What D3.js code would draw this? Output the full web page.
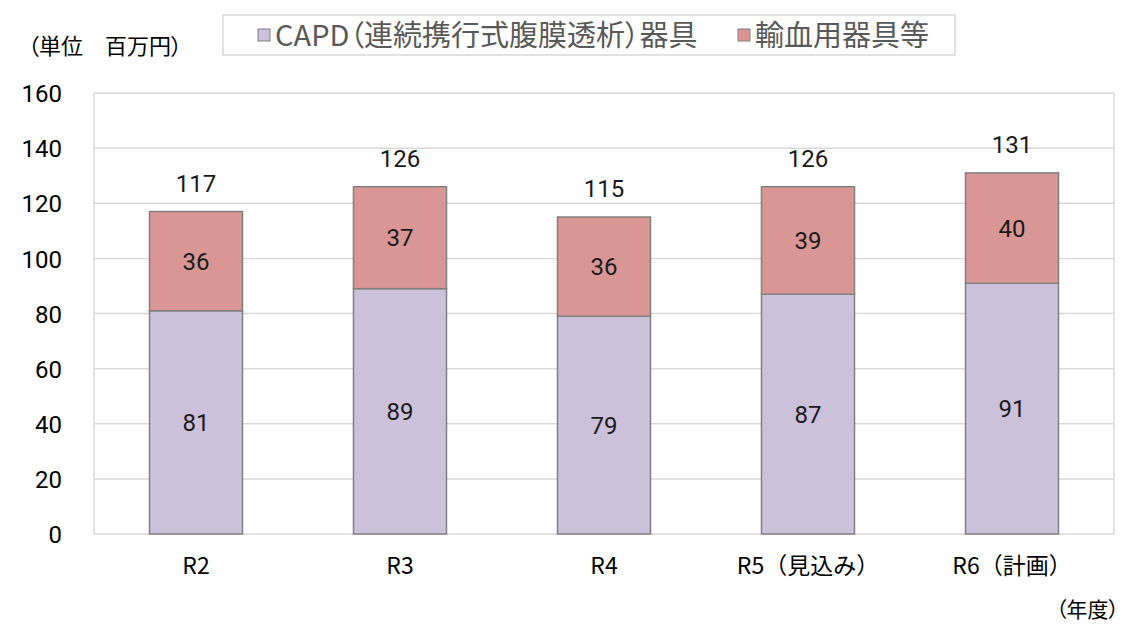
<!DOCTYPE html>
<html><head><meta charset="utf-8">
<script src="https://cdn.jsdelivr.net/npm/d3@7"></script>
<style>
html,body{margin:0;padding:0;background:#fff;}
svg{display:block;font-family:"Noto Sans CJK JP","Noto Sans",sans-serif;}
.palt{font-feature-settings:"palt" 1;}
</style></head>
<body><svg id="c" width="1123" height="626"></svg>
<script>
const categories = ["R2","R3","R4","R5（見込み）","R6（計画）"];
const capd = [81,89,79,87,91];
const transfusion = [36,37,36,39,40];
const totals = [117,126,115,126,131];
const seriesNames = ["CAPD（連続携行式腹膜透析）器具","輸血用器具等"];
const yTicks = [0,20,40,60,80,100,120,140,160];
const colors = ["#CCC1DA","#D99694"];

const svg = d3.select("#c");
const m = {left:94, right:1114, top:93, bottom:534};
const x = d3.scaleBand().domain(categories).range([m.left,m.right]).paddingInner(0.544).paddingOuter(0.272);
const y = d3.scaleLinear().domain([0,160]).range([m.bottom,m.top]);
const numFont = "Roboto,'Noto Sans',sans-serif";
const jpFont = "'Noto Sans CJK JP','Noto Sans',sans-serif";

// gridlines
svg.append("g").selectAll("line").data(yTicks).join("line")
  .attr("x1",m.left).attr("x2",m.right)
  .attr("y1",d=>y(d)).attr("y2",d=>y(d))
  .attr("stroke","#d9d9d9").attr("stroke-width",1.5);
svg.append("line").attr("x1",m.left).attr("x2",m.left).attr("y1",m.top).attr("y2",m.bottom).attr("stroke","#d9d9d9").attr("stroke-width",1.5);
svg.append("line").attr("x1",m.right).attr("x2",m.right).attr("y1",m.top).attr("y2",m.bottom).attr("stroke","#d9d9d9").attr("stroke-width",1.5);

// y axis
const yAxis = svg.append("g").attr("transform",`translate(${m.left},0)`)
  .call(d3.axisLeft(y).tickValues(yTicks).tickSize(0).tickPadding(32));
yAxis.select(".domain").remove();
yAxis.selectAll("text").attr("font-size",24).attr("fill","#000").attr("font-family",numFont).attr("dy","0.36em");

// x axis
const xAxis = svg.append("g").attr("transform",`translate(0,${m.bottom})`)
  .call(d3.axisBottom(x).tickSize(0).tickPadding(24));
xAxis.attr("font-family",jpFont);
xAxis.select(".domain").remove();
xAxis.selectAll("text").attr("font-size",23).attr("fill","#000").attr("font-family",jpFont);

// stacked data
const data = categories.map((c,i)=>({cat:c, s0:capd[i], s1:transfusion[i], total:totals[i]}));
const stack = d3.stack().keys(["s0","s1"])(data);
stack.forEach((layer,li)=>{
  svg.append("g").selectAll("rect").data(layer).join("rect")
    .attr("x",d=>x(d.data.cat)).attr("width",x.bandwidth())
    .attr("y",d=>y(d[1])).attr("height",d=>y(d[0])-y(d[1]))
    .attr("fill",colors[li]).attr("stroke","#808080").attr("stroke-width",1.5);
  svg.append("g").selectAll("text").data(layer).join("text")
    .attr("x",d=>x(d.data.cat)+x.bandwidth()/2)
    .attr("y",d=>y((d[0]+d[1])/2)).attr("dy","0.36em")
    .attr("text-anchor","middle").attr("font-size",24).attr("fill","#1a1a1a")
    .attr("font-family",numFont)
    .text(d=>d[1]-d[0]);
});
svg.append("g").selectAll("text").data(data).join("text")
  .attr("x",d=>x(d.cat)+x.bandwidth()/2)
  .attr("y",d=>y(d.total)-20)
  .attr("text-anchor","middle").attr("font-size",24).attr("fill","#1a1a1a")
  .attr("font-family",numFont)
  .text(d=>d.total);

// unit label
svg.append("text").attr("x",28).attr("y",54).attr("font-size",22).attr("fill","#000").attr("class","palt").text("（単位　百万円）");
svg.append("text").attr("x",1119).attr("y",617).attr("text-anchor","end").attr("font-size",21).attr("fill","#000").attr("class","palt").text("（年度）");

// legend
svg.append("rect").attr("x",223).attr("y",15).attr("width",732).attr("height",40).attr("fill","#fff").attr("stroke","#d9d9d9").attr("stroke-width",1.5);
const legX = [258,738];
seriesNames.forEach((n,i)=>{
  svg.append("rect").attr("x",legX[i]).attr("y",29).attr("width",12).attr("height",12).attr("fill",colors[i]).attr("stroke","#808080").attr("stroke-width",1);
  svg.append("text").attr("x",legX[i]+17).attr("y",46).attr("font-size",29).attr("fill","#595959").attr("class","palt").text(n);
});
</script></body></html>
